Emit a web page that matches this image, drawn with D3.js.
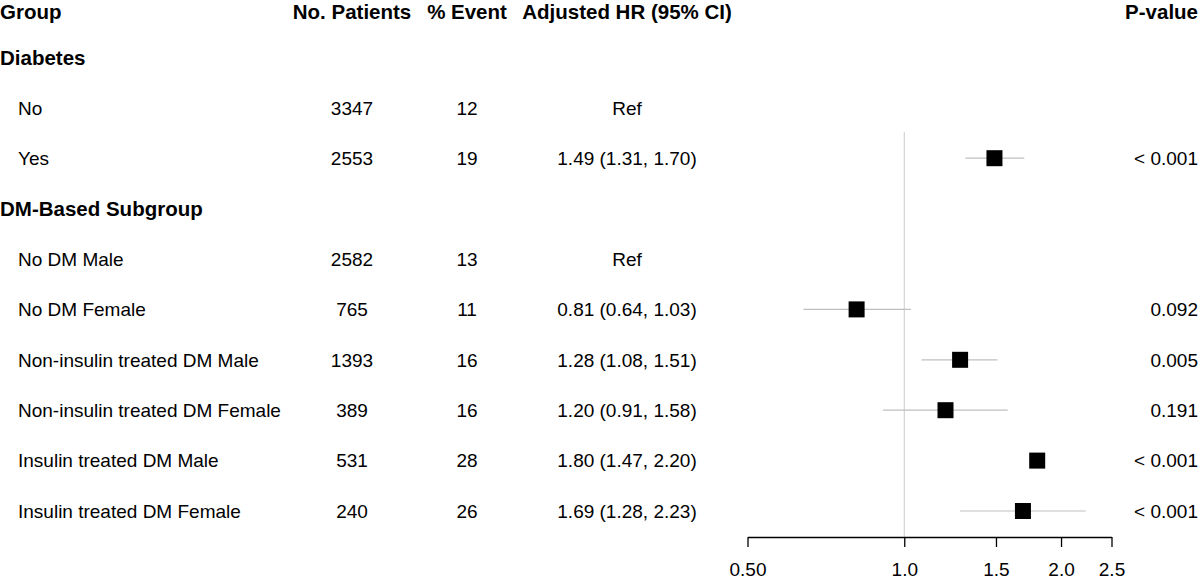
<!DOCTYPE html>
<html>
<head>
<meta charset="utf-8">
<script src="https://cdn.jsdelivr.net/npm/d3@7"></script>
<style>
  body { margin: 0; background: #fff; }
  svg { display: block; font-family: "Liberation Sans", Arial, sans-serif; }
</style>
</head>
<body>
<div class="forest"></div>
<script>
// table rows, top to bottom (header row is drawn separately)
var labels = ["Diabetes", "No", "Yes", "DM-Based Subgroup", "No DM Male", "No DM Female",
  "Non-insulin treated DM Male", "Non-insulin treated DM Female", "Insulin treated DM Male", "Insulin treated DM Female"];
var isGroup = [true, false, false, true, false, false, false, false, false, false];
var patients = ["", "3347", "2553", "", "2582", "765", "1393", "389", "531", "240"];
var events = ["", "12", "19", "", "13", "11", "16", "16", "28", "26"];
var hrText = ["", "Ref", "1.49 (1.31, 1.70)", "", "Ref", "0.81 (0.64, 1.03)", "1.28 (1.08, 1.51)",
  "1.20 (0.91, 1.58)", "1.80 (1.47, 2.20)", "1.69 (1.28, 2.23)"];
var hr = [null, null, 1.49, null, null, 0.81, 1.28, 1.20, 1.80, 1.69];
var lower = [null, null, 1.31, null, null, 0.64, 1.08, 0.91, 1.47, 1.28];
var upper = [null, null, 1.70, null, null, 1.03, 1.51, 1.58, 2.20, 2.23];
var showCI = [false, false, true, false, false, true, true, true, false, true];
var pvals = ["", "", "< 0.001", "", "", "0.092", "0.005", "0.191", "< 0.001", "< 0.001"];
var headers = ["Group", "No. Patients", "% Event", "Adjusted HR (95% CI)", "P-value"];
var ticks = [0.5, 1.0, 1.5, 2.0, 2.5];
var tickLabels = ["0.50", "1.0", "1.5", "2.0", "2.5"];

var width = 1200, height = 579;
var fs = 19, fsBold = 20.5;

var svg = d3.select(".forest").append("svg")
  .attr("width", width)
  .attr("height", height);

var y = d3.scaleLinear().domain([0, 10]).range([7, 511]);
var x = d3.scaleLog().domain([0.5, 2.5]).range([747.5, 1111.5]);

var colX = [0, 352, 467, 627, 1198];
var colAnchor = ["start", "middle", "middle", "middle", "end"];

// header row
svg.selectAll(".hdr")
  .data(headers)
  .enter().append("text")
  .attr("class", "hdr")
  .attr("x", function(d, i) { return colX[i]; })
  .attr("y", 19)
  .attr("text-anchor", function(d, i) { return colAnchor[i]; })
  .attr("font-size", fsBold + "px")
  .attr("font-weight", "bold")
  .text(function(d) { return d; });

var rows = labels.map(function(d, i) {
  return { i: i + 1, label: d, group: isGroup[i], n: patients[i], ev: events[i],
    hrt: hrText[i], hr: hr[i], lo: lower[i], hi: upper[i], ci: showCI[i], p: pvals[i] };
});

var row = svg.selectAll(".row")
  .data(rows)
  .enter().append("g")
  .attr("class", "row")
  .attr("transform", function(d) { return "translate(0," + y(d.i) + ")"; });

function col(sel, xpos, anchor, fn) {
  sel.append("text")
    .attr("x", xpos)
    .attr("dy", "0.36em")
    .attr("text-anchor", anchor)
    .attr("font-size", fs + "px")
    .text(fn);
}

row.append("text")
  .attr("x", function(d) { return d.group ? 0 : 18; })
  .attr("dy", "0.36em")
  .attr("font-size", function(d) { return (d.group ? fsBold : fs) + "px"; })
  .attr("font-weight", function(d) { return d.group ? "bold" : "normal"; })
  .text(function(d) { return d.label; });
col(row, colX[1], "middle", function(d) { return d.n; });
col(row, colX[2], "middle", function(d) { return d.ev; });
col(row, colX[3], "middle", function(d) { return d.hrt; });
col(row, colX[4], "end", function(d) { return d.p; });

// reference line at HR = 1
svg.append("line")
  .attr("x1", x(1)).attr("x2", x(1))
  .attr("y1", y(3) - 26).attr("y2", y(10) + 26)
  .attr("stroke", "#cccccc")
  .attr("stroke-width", 1);

var est = rows.filter(function(d) { return d.hr != null; });

svg.selectAll(".ci")
  .data(est.filter(function(d) { return d.ci; }))
  .enter().append("line")
  .attr("class", "ci")
  .attr("x1", function(d) { return x(d.lo); })
  .attr("x2", function(d) { return x(d.hi); })
  .attr("y1", function(d) { return y(d.i); })
  .attr("y2", function(d) { return y(d.i); })
  .attr("stroke", "#bfbfbf")
  .attr("stroke-width", 1.2);

var box = 16;
svg.selectAll(".box")
  .data(est)
  .enter().append("rect")
  .attr("class", "box")
  .attr("x", function(d) { return x(d.hr) - box / 2; })
  .attr("y", function(d) { return y(d.i) - box / 2; })
  .attr("width", box)
  .attr("height", box)
  .attr("fill", "#000");

// x axis
var axis = d3.axisBottom(x)
  .tickValues(ticks)
  .tickFormat(function(d, i) { return tickLabels[i]; })
  .tickSize(10)
  .tickSizeOuter(0)
  .tickPadding(16);

var ax = svg.append("g")
  .attr("transform", "translate(0," + (y(10) + 26) + ")")
  .call(axis);
ax.select(".domain").attr("stroke", "#000").attr("stroke-width", 1.3);
ax.selectAll(".tick line").attr("stroke", "#000").attr("stroke-width", 1.3);
ax.selectAll(".tick text")
  .attr("font-size", fs + "px")
  .attr("font-family", "Liberation Sans, Arial, sans-serif")
  .attr("fill", "#000");
</script>
</body>
</html>
